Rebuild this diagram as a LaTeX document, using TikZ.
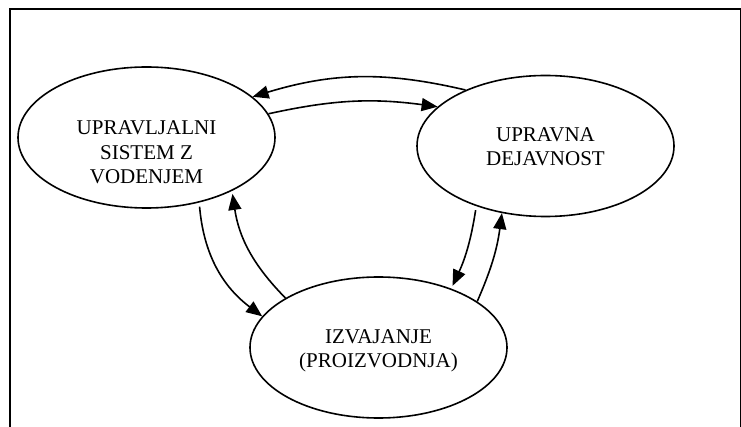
\documentclass[tikz,border=0pt]{standalone}
\usepackage{fontspec}
\setmainfont{Liberation Serif}
\usetikzlibrary{shapes.geometric,arrows.meta}
\begin{document}
\begin{tikzpicture}[x=1pt,y=-1pt,
  state/.style={ellipse,draw,line width=1.6pt,minimum width=257pt,minimum height=141pt,inner sep=0pt},
  caption/.style={inner sep=0pt,align=center,font=\fontsize{21}{24.5}\selectfont},
  flow/.style={line width=1.6pt,-{Triangle[length=16pt,width=13pt]}}]
\path[use as bounding box] (0,0) rectangle (741,427);
% open frame (bottom edge falls outside the page)
\draw[line width=2pt] (10,427) -- (10,9.3) -- (740.5,9.3) -- (740.5,427);

% the three activities; their texts sit in the upper part of each ellipse
\node[state] (ctrl)  at (146.5,137.5) {};
\node[state] (admin) at (545.5,146)   {};
\node[state] (prod)  at (378.5,347.5) {};
\node[caption] (ctrlText)  at (146.5,152.5) {UPRAVLJALNI\\SISTEM Z\\VODENJEM};
\node[caption] (adminText) at (545.5,146.5) {UPRAVNA\\DEJAVNOST};
\node[caption] (prodText)  at (378.5,351)   {IZVAJANJE\\(PROIZVODNJA)};

% paired flows between the three activities
\draw[flow] (admin.145) to[bend right=15] (ctrl.21);
\draw[flow] (ctrl.11) to[bend left=10] (admin.160);
\draw[flow,shorten <=4pt] (ctrl.-51) to[bend right=24] (prod.165);
\draw[flow,shorten >=3pt] (prod.152) to[bend left=18] (ctrl.-32);
\draw[flow,shorten <=4pt,shorten >=3pt] (admin.-139) to[bend left=8] (prod.39);
\draw[flow] (prod.25) to[bend right=8] (admin.-123);
\end{tikzpicture}
\end{document}
